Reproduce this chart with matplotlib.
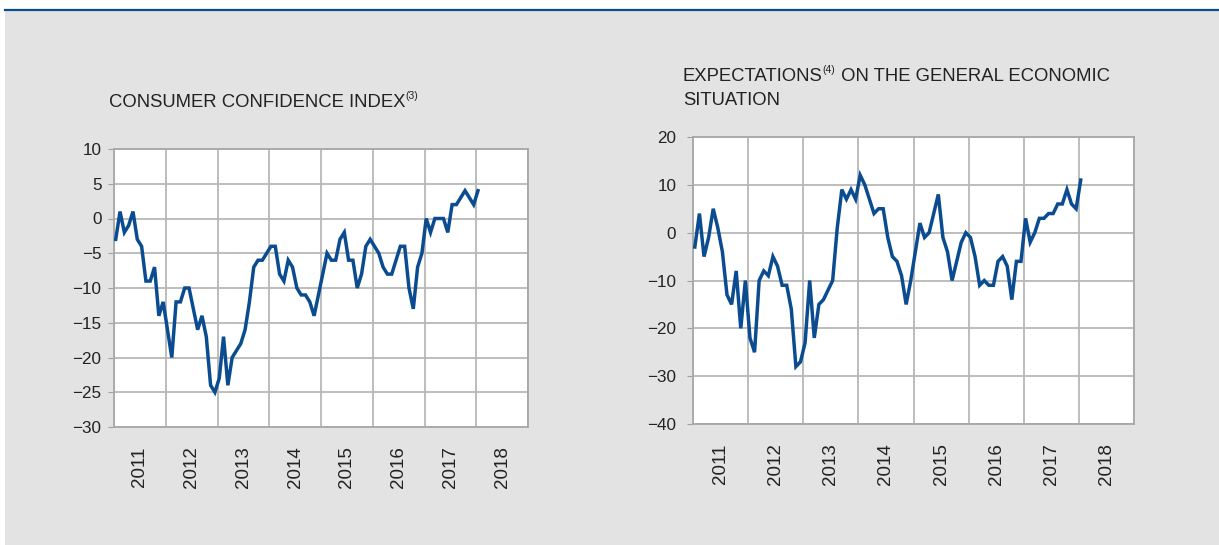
import numpy as np
import matplotlib.pyplot as plt
from matplotlib.patches import Rectangle

plt.rcParams['font.family'] = ['Liberation Sans', 'DejaVu Sans']

# monthly data, Jan 2011 - Jan 2018
confidence = [-3, 1, -2, -1, 1, -3, -4, -9, -9, -7, -14, -12,
              -16, -20, -12, -12, -10, -10, -13, -16, -14, -17, -24, -25,
              -23, -17, -24, -20, -19, -18, -16, -12, -7, -6, -6, -5,
              -4, -4, -8, -9, -6, -7, -10, -11, -11, -12, -14, -11,
              -8, -5, -6, -6, -3, -2, -6, -6, -10, -8, -4, -3,
              -4, -5, -7, -8, -8, -6, -4, -4, -10, -13, -7, -5,
              0, -2, 0, 0, 0, -2, 2, 2, 3, 4, 3, 2,
              4]
expectations = [-3, 4, -5, -1, 5, 1, -4, -13, -15, -8, -20, -10,
                -22, -25, -10, -8, -9, -5, -7, -11, -11, -16, -28, -27,
                -23, -10, -22, -15, -14, -12, -10, 1, 9, 7, 9, 7,
                12, 10, 7, 4, 5, 5, -1, -5, -6, -9, -15, -10,
                -4, 2, -1, 0, 4, 8, -1, -4, -10, -6, -2, 0,
                -1, -5, -11, -10, -11, -11, -6, -5, -7, -14, -6, -6,
                3, -2, 0, 3, 3, 4, 4, 6, 6, 9, 6, 5,
                11]
years = [2011, 2012, 2013, 2014, 2015, 2016, 2017, 2018]

blue = '#0b4c91'
grid_col = '#b7b7b7'
txt = '#222222'

fig = plt.figure(figsize=(12.19, 5.45), dpi=100)
fig.patch.set_facecolor('white')
fig.patches.append(Rectangle((5 / 1219, 0), 1, 1 - 11 / 545, transform=fig.transFigure,
                             facecolor='#e3e3e3', edgecolor='none', zorder=-10))
fig.add_artist(plt.Line2D([5 / 1219, 1], [1 - 9.5 / 545] * 2, color='#0b4c91', lw=1.6))


def draw(ax, vals, ylim, step, ypad):
    t = 2011 + (np.arange(len(vals)) + 0.4) / 12
    ax.set_facecolor('white')
    ax.plot(t, vals, color=blue, lw=2.5, solid_joinstyle='miter', zorder=3)
    ax.set_xlim(2011, 2019)
    ax.set_ylim(*ylim)
    ax.set_yticks(np.arange(ylim[0], ylim[1] + 1, step))
    ax.set_xticks(range(2011, 2020), minor=False)
    ax.set_xticklabels([])
    ax.set_xticks([y + 0.5 for y in years], minor=True)
    ax.set_xticklabels([str(y) for y in years], minor=True, rotation=90, fontsize=13.5, color=txt)
    ax.tick_params(axis='x', which='both', length=0, pad=14)
    ax.tick_params(axis='y', length=4, color='#a0a0a0', pad=ypad, labelsize=12.3, labelcolor=txt)
    ax.grid(True, which='major', color=grid_col, lw=1.3)
    for s in ax.spines.values():
        s.set_color('#a8a8a8')
        s.set_linewidth(1.3)
    ax.set_axisbelow(True)


ax1 = fig.add_axes([114 / 1219, 1 - 427 / 545, 414 / 1219, 278 / 545])
draw(ax1, confidence, (-30, 10), 5, 5)
ax2 = fig.add_axes([693 / 1219, 1 - 424 / 545, 441 / 1219, 287 / 545])
draw(ax2, expectations, (-40, 20), 10, 8)

# titles with superscripts
t1 = fig.text(109 / 1219, 1 - 107 / 545, 'CONSUMER CONFIDENCE INDEX', fontsize=13.3,
              color=txt, va='baseline')
ax1.annotate('(3)', xy=(1, 0.6), xycoords=t1, fontsize=7.5, color=txt, va='bottom', ha='left')

t2 = fig.text(683 / 1219, 1 - 81 / 545, 'EXPECTATIONS', fontsize=13.3, color=txt, va='baseline')
s2 = ax2.annotate('(4)', xy=(1, 0.6), xycoords=t2, fontsize=7.5, color=txt, va='bottom', ha='left')
ax2.annotate(' ON THE GENERAL ECONOMIC', xy=(1, 0), xycoords=(s2, t2), fontsize=13.3,
             color=txt, va='bottom', ha='left')
fig.text(683 / 1219, 1 - 105 / 545, 'SITUATION', fontsize=13.3, color=txt, va='baseline')

fig.savefig('out.png', dpi=100)
